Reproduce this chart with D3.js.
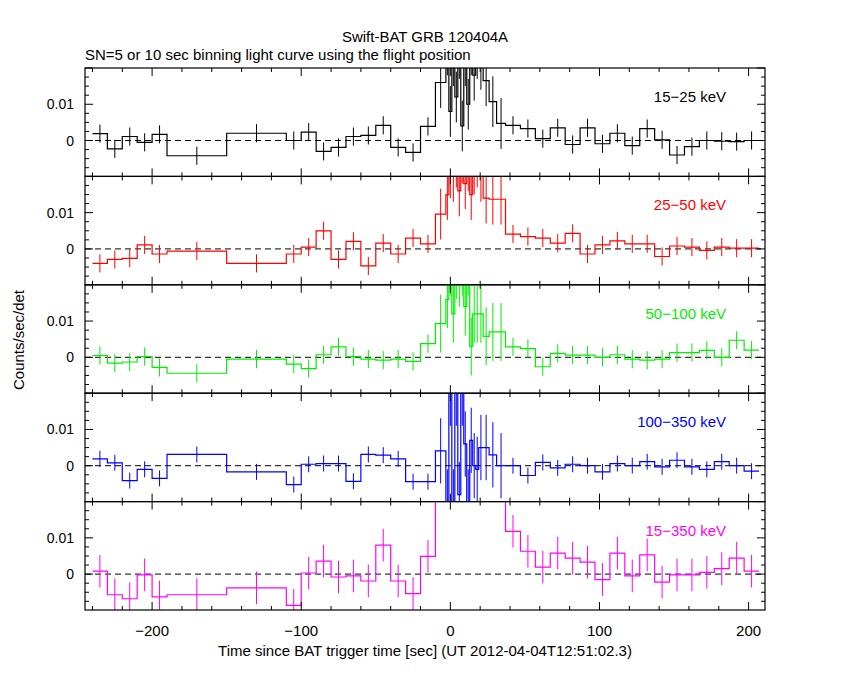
<!DOCTYPE html>
<html><head><meta charset="utf-8">
<script src="https://cdn.jsdelivr.net/npm/d3@7"></script>
<style>body{margin:0;background:#fff}text{font-family:"Liberation Sans",Arial,sans-serif}</style>
</head><body><svg id="c" width="850" height="680"></svg>
<script>
// bin edges (sec) shared by every band
var edges = [-240,-230,-220,-210,-200,-190,-150,-110,-100,-90,-80,-70,-60,-50,-40,-30,-20,-10,
  -3,-1,1,3,5,7,9,11,13,15,17,19,22,26,31,37,
  47,57,67,77,87,97,107,117,127,137,147,157,167,177,187,197,207];
var burstFirst = 17, burstLast = 32; // indices of fine bins

var bands = ["15-25 keV","25-50 keV","50-100 keV","100-350 keV","15-350 keV"];
var colors = ["#000000","#ff0000","#00ee00","#0000ff","#ff00ff"];

var rate15_25 = [0.0019,-0.0023,0.0011,-0.0005,0.0017,-0.0042,0.002,0,0.0023,-0.003,-0.0019,0.0011,0.0014,0.0042,-0.0019,-0.0033,0.0039,
  0.016,0.025,0.008,0.022,0.012,0.024,0.004,0.022,0.01,0.025,0.018,0.024,0.021,0.0165,0.0107,0.0047,
  0.0042,0.0033,0.0005,0.0035,-0.0011,0.0035,-0.0009,0.002,-0.0014,0.0033,0.0002,-0.004,-0.0017,0,-0.0002,-0.0003,0];
var rate25_50 = [-0.004,-0.0029,-0.0026,0.0011,-0.0014,-0.0006,-0.004,-0.0014,0.0005,0.005,-0.0029,0.0021,-0.0047,0.0016,-0.0014,0.003,0.0014,
  0.0096,0.015,0.021,0.02,0.024,0.016,0.025,0.018,0.023,0.015,0.022,0.024,0.02,0.014,0.0137,0.0137,
  0.0041,0.0034,0.003,0.0016,0.0043,-0.0014,0.0011,0.0022,0.0014,0.0014,-0.0021,0.0008,0.0005,-0.0004,0.0005,0.0002,0.0002];
var rate50_100 = [0.0005,-0.0016,-0.0013,0.0002,-0.0028,-0.0044,-0.0005,-0.0019,-0.0031,0.0007,0.0029,0.0002,-0.0005,-0.0008,-0.0005,-0.0011,0.0038,
  0.0093,0.016,0.025,0.012,0.024,0.022,0.025,0.014,0.025,0.003,0.012,0.012,0.012,0.0058,0.007,0.007,
  0.0029,0.0024,-0.0026,0.0011,0.0006,0.0006,0,0.0007,-0.0005,-0.0008,-0.0005,0.0013,0.0013,0.0019,0,0.0047,0.002];
var rate100_350 = [0.0019,0.0008,-0.0041,-0.001,-0.0035,0.0031,-0.0017,-0.0052,0.0004,0.0006,0.0006,-0.0043,0.0031,0.0029,0.0019,-0.0044,-0.0044,
  0.0041,-0.01,0.02,-0.01,0.02,-0.008,0.02,0.006,-0.01,0.007,0,-0.001,0.005,0.005,0.003,0,
  0,-0.0027,0.0009,-0.0006,0.0004,0,-0.0017,0.0006,0,0.0011,-0.0003,0.0015,-0.0003,-0.001,0.0011,0,-0.0015];
var rate15_350 = [0.0008,-0.0057,-0.0068,-0.0002,-0.0063,-0.0057,-0.0038,-0.0086,0.0003,0.0036,-0.0008,-0.0005,-0.0019,0.008,-0.0019,-0.0054,0.0049,
  0.04,0.045,0.05,0.05,0.05,0.05,0.05,0.05,0.05,0.05,0.05,0.05,0.05,0.045,0.04,0.035,
  0.0118,0.0063,0.0019,0.0058,0.0044,0.0033,-0.0015,0.0058,-0.0005,0.0053,-0.0022,-0.0002,-0.0002,0.0005,0.0015,0.0044,0.0008];
var rates = [rate15_25, rate25_50, rate50_100, rate100_350, rate15_350];
var errQuiet = [0.0025,0.0025,0.0025,0.0022,0.0045];
var errBurst = [0.007,0.007,0.008,0.009,0.012];

var xTicks = [-200,-100,0,100,200];
var yTicks = [0,0.01];

var svg = d3.select("#c");
var L = 85, R = 765, T = 68, B = 610, n = bands.length;
var ph = (B - T) / n;
var x = d3.scaleLinear().domain([-245, 211]).range([L, R]);

svg.append("text").attr("x", 425).attr("y", 42).attr("text-anchor", "middle").attr("font-size", 15).text("Swift-BAT GRB 120404A");
svg.append("text").attr("x", 85).attr("y", 60).attr("font-size", 15).text("SN=5 or 10 sec binning light curve using the flight position");
svg.append("text").attr("transform", "translate(24,340) rotate(-90)").attr("text-anchor", "middle").attr("font-size", 15).text("Counts/sec/det");
svg.append("text").attr("x", 425).attr("y", 656).attr("text-anchor", "middle").attr("font-size", 15).text("Time since BAT trigger time [sec] (UT 2012-04-04T12:51:02.3)");

rates.forEach(function(vals, p) {
  var top = T + p * ph, bot = top + ph;
  var y = d3.scaleLinear().domain([-0.0099, 0.02]).range([bot, top]);
  var g = svg.append("g");
  var clipId = "clip" + p;
  svg.append("clipPath").attr("id", clipId).append("rect").attr("x", L).attr("y", top).attr("width", R - L).attr("height", ph);
  var pg = g.append("g").attr("clip-path", "url(#" + clipId + ")");

  pg.append("line").attr("x1", L).attr("x2", R).attr("y1", y(0)).attr("y2", y(0))
    .attr("stroke", "#000").attr("stroke-dasharray", "6,4");

  var pts = [];
  vals.forEach(function(v, i) {
    pts.push([x(edges[i]), y(v)]);
    pts.push([x(edges[i + 1]), y(v)]);
  });
  pg.append("path").attr("d", d3.line()(pts)).attr("fill", "none").attr("stroke", colors[p]).attr("stroke-width", 1.2);

  vals.forEach(function(v, i) {
    var e = (i >= burstFirst && i <= burstLast) ? errBurst[p] : errQuiet[p];
    var cx = x((edges[i] + edges[i + 1]) / 2);
    pg.append("line").attr("x1", cx).attr("x2", cx).attr("y1", y(v - e)).attr("y2", y(v + e))
      .attr("stroke", colors[p]).attr("stroke-width", 1);
  });

  // frame
  g.append("rect").attr("x", L).attr("y", top).attr("width", R - L).attr("height", ph)
    .attr("fill", "none").attr("stroke", "#000").attr("stroke-width", 1.2);
  // x ticks
  d3.range(-240, 211, 20).forEach(function(t) {
    var len = (t % 100 === 0) ? 8 : 4;
    g.append("line").attr("x1", x(t)).attr("x2", x(t)).attr("y1", top).attr("y2", top + len).attr("stroke", "#000");
    g.append("line").attr("x1", x(t)).attr("x2", x(t)).attr("y1", bot).attr("y2", bot - len).attr("stroke", "#000");
  });
  // y ticks
  d3.range(-0.0075, 0.0201, 0.0025).forEach(function(v) {
    var major = Math.abs(v % 0.01) < 1e-9;
    var len = major ? 8 : 4;
    g.append("line").attr("x1", L).attr("x2", L + len).attr("y1", y(v)).attr("y2", y(v)).attr("stroke", "#000");
    g.append("line").attr("x1", R).attr("x2", R - len).attr("y1", y(v)).attr("y2", y(v)).attr("stroke", "#000");
  });
  yTicks.forEach(function(v) {
    g.append("text").attr("x", 74).attr("y", y(v) + 5).attr("text-anchor", "end").attr("font-size", 14)
      .text(v === 0 ? "0" : "0.01");
  });
  g.append("text").attr("x", 726).attr("y", top + 34).attr("text-anchor", "end").attr("font-size", 15)
    .attr("fill", colors[p]).text(bands[p].replace("-", "\u2212"));
});

xTicks.forEach(function(t) {
  svg.append("text").attr("x", x(t)).attr("y", 636).attr("text-anchor", "middle").attr("font-size", 15)
    .text(String(t).replace("-", "\u2212"));
});
</script></body></html>
